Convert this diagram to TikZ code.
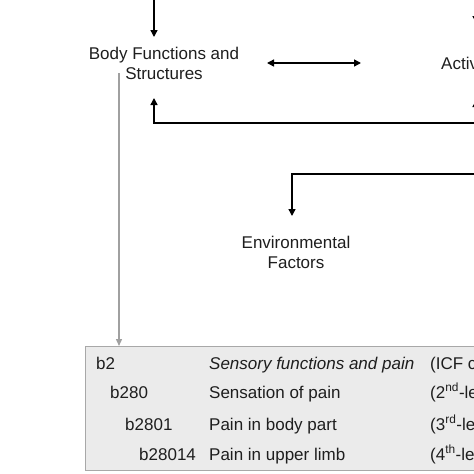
\documentclass[tikz,border=0pt]{standalone}
\usepackage{fontspec}
\setmainfont{Liberation Sans}
\usetikzlibrary{arrows.meta,calc}
\definecolor{txt}{HTML}{1E1E1E}
\definecolor{boxfill}{HTML}{EBEBEB}
\definecolor{boxline}{HTML}{A8A8A8}
\definecolor{grayline}{HTML}{A0A0A0}
\begin{document}
\begin{tikzpicture}[x=1pt,y=-1pt,
 lbl/.style={font=\fontsize{17}{20}\selectfont, text=txt, inner sep=0pt, align=center},
 cell/.style={font=\fontsize{17}{20}\selectfont, text=txt, inner sep=0pt, anchor=base west},
 arr/.style={line width=1.4pt, draw=black, -{Triangle[length=7pt,width=7pt]}},
 darr/.style={line width=1.4pt, draw=black, {Triangle[length=7pt,width=7pt]}-{Triangle[length=7pt,width=7pt]}},
 garr/.style={line width=1.3pt, draw=grayline, -{Triangle[length=7pt,width=6pt]}},
 tbox/.style={draw=boxline, fill=boxfill, line width=0.9pt, inner sep=0pt, anchor=north west}
]
\useasboundingbox (0,0) rectangle (474,474);
\clip (0,0) rectangle (474,474);
% labels
\node[lbl] (body) at (164,63) {Body Functions and\\Structures};
\node[lbl, anchor=west] (act) at (441,63) {Activities};
\node[lbl] (env) at (296,252) {Environmental\\Factors};
% arrows from above
\coordinate (htop) at (154,0); \coordinate (hbody) at (154,37);
\draw[arr] (htop) -- (hbody);
\coordinate (atop) at (476,0); \coordinate (aend) at (476,23);
\draw[arr] (atop) -- (aend);
% double arrow
\coordinate (dl) at (267,63); \coordinate (dr) at (361,63);
\draw[darr] (dl) -- (dr);
% lower connectors
\coordinate (pb) at (154,98); \coordinate (pa) at (476,100); \coordinate (pr) at (520,123);
\draw[arr] (pr) -| (pb);
\draw[arr] (pa |- pr) -- (pa);
\coordinate (er) at (520,174); \coordinate (ee) at (292,216);
\draw[arr] (er) -| (ee);
% table box
\node[tbox, minimum width=480pt, minimum height=124pt] (box) at (85,346) {};
\coordinate (gs) at (119,73);
\draw[garr] (gs) -- (gs |- box.north);
% table rows
\node[cell] (r1a) at (96,369) {b2};
\node[cell] (r1b) at (209,369) {\itshape Sensory functions and pain};
\node[cell] (r1c) at (430,369) {(ICF chapter)};
\node[cell] (r2a) at (110,398) {b280};
\node[cell] (r2b) at (209,398) {Sensation of pain};
\node[cell] (r2c) at (430,398) {(2\textsuperscript{nd}-level)};
\node[cell] (r3a) at (125,430) {b2801};
\node[cell] (r3b) at (209,430) {Pain in body part};
\node[cell] (r3c) at (430,430) {(3\textsuperscript{rd}-level)};
\node[cell] (r4a) at (139,460) {b28014};
\node[cell] (r4b) at (209,460) {Pain in upper limb};
\node[cell] (r4c) at (430,460) {(4\textsuperscript{th}-level)};
\end{tikzpicture}
\end{document}
